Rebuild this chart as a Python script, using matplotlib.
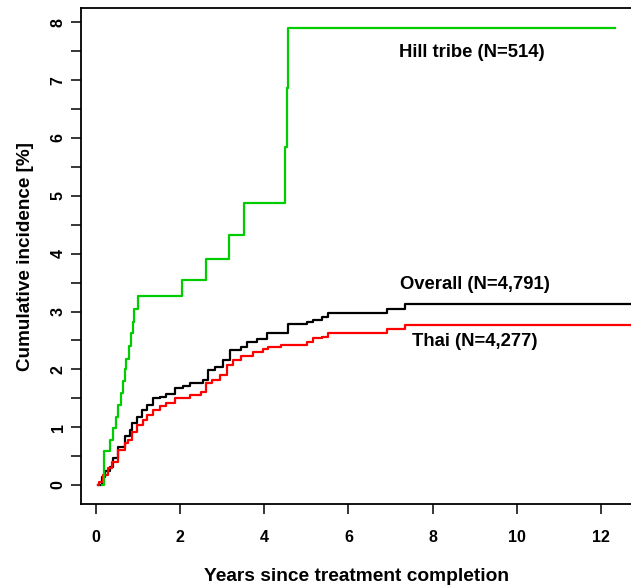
import numpy as np
import matplotlib.pyplot as plt

plt.rcParams['font.family'] = ['Liberation Sans', 'DejaVu Sans']

# step vertices (years, cumulative incidence %)
hill_t = [0.15, 0.20, 0.35, 0.42, 0.48, 0.54, 0.59, 0.64, 0.69, 0.73, 0.79, 0.84,
          0.875, 0.91, 1.0, 2.04, 2.61, 3.16, 3.53, 4.50, 4.53, 4.56, 12.33]
hill_y = [0.0, 0.59, 0.78, 0.98, 1.18, 1.38, 1.585, 1.79, 2.0, 2.18, 2.41, 2.62,
          2.82, 3.04, 3.27, 3.54, 3.90, 4.33, 4.875, 5.84, 6.86, 7.91, 7.91]

overall_t = [0.05, 0.14, 0.22, 0.34, 0.42, 0.54, 0.69, 0.81, 0.85, 0.97, 1.09, 1.21,
             1.35, 1.52, 1.68, 1.88, 2.08, 2.24, 2.55, 2.67, 2.83, 3.03, 3.19, 3.46,
             3.58, 3.82, 4.06, 4.41, 4.57, 5.01, 5.17, 5.37, 5.52, 6.91, 7.34, 12.8]
overall_y = [0.0, 0.14, 0.25, 0.32, 0.46, 0.66, 0.84, 0.95, 1.07, 1.18, 1.30, 1.38,
             1.50, 1.53, 1.57, 1.67, 1.71, 1.76, 1.82, 1.99, 2.04, 2.16, 2.33, 2.39,
             2.48, 2.52, 2.62, 2.63, 2.79, 2.81, 2.85, 2.90, 2.97, 3.04, 3.13, 3.13]

thai_t = [0.05, 0.08, 0.18, 0.30, 0.38, 0.54, 0.69, 0.77, 0.85, 0.97, 1.13, 1.21,
          1.37, 1.52, 1.68, 1.88, 2.24, 2.51, 2.63, 2.75, 2.95, 3.11, 3.27, 3.46,
          3.74, 3.98, 4.10, 4.41, 5.01, 5.17, 5.37, 5.52, 6.91, 7.34, 12.8]
thai_y = [0.0, 0.06, 0.17, 0.29, 0.40, 0.61, 0.72, 0.78, 0.92, 1.04, 1.13, 1.21,
          1.30, 1.36, 1.41, 1.50, 1.56, 1.61, 1.76, 1.82, 1.90, 2.07, 2.16, 2.23,
          2.30, 2.36, 2.39, 2.42, 2.48, 2.54, 2.56, 2.62, 2.69, 2.77, 2.77]

labels = ['Hill tribe (N=514)', 'Overall (N=4,791)', 'Thai (N=4,277)']

fig = plt.figure(figsize=(6.31, 5.85), dpi=100)
ax = fig.add_axes([81 / 631, 81 / 585, 1 - 81 / 631, (504 - 8.3) / 585])

ax.step(overall_t, overall_y, where='post', color='black', lw=1.6)
ax.step(thai_t, thai_y, where='post', color='#ff0000', lw=1.6)
ax.step(hill_t, hill_y, where='post', color='#00cd00', lw=1.6)

ax.set_xlim(-0.35, 12.71)
ax.set_ylim(-0.328, 8.242)

tf = dict(fontsize=13.3, fontweight='bold', ha='center', va='center')
ax.text(8.92, 7.47, labels[0], **tf)
ax.text(9.0, 3.47, labels[1], **tf)
ax.text(9.0, 2.49, labels[2], **tf)

ax.set_xticks(np.arange(0, 13, 2))
ax.set_yticks(np.arange(0, 9, 1))
ax.set_yticks(np.arange(0.5, 8, 1), minor=True)
ax.tick_params(axis='both', which='both', length=7, width=1.1)
ax.tick_params(axis='x', pad=12, labelsize=11.5)
ax.tick_params(axis='y', pad=4, labelsize=11.5)
for lab in ax.get_yticklabels():
    lab.set_rotation(90)
    lab.set_va('center')
for lab in ax.get_xticklabels() + ax.get_yticklabels():
    lab.set_fontweight('bold')

ax.spines['right'].set_visible(False)
for s in ['left', 'top', 'bottom']:
    ax.spines[s].set_linewidth(1.3)

ax.set_xlabel('Years since treatment completion', fontsize=13.8, fontweight='bold', labelpad=16)
ax.set_ylabel('Cumulative incidence [%]', fontsize=13.6, fontweight='bold', labelpad=12)

fig.savefig('out.png', dpi=100)
